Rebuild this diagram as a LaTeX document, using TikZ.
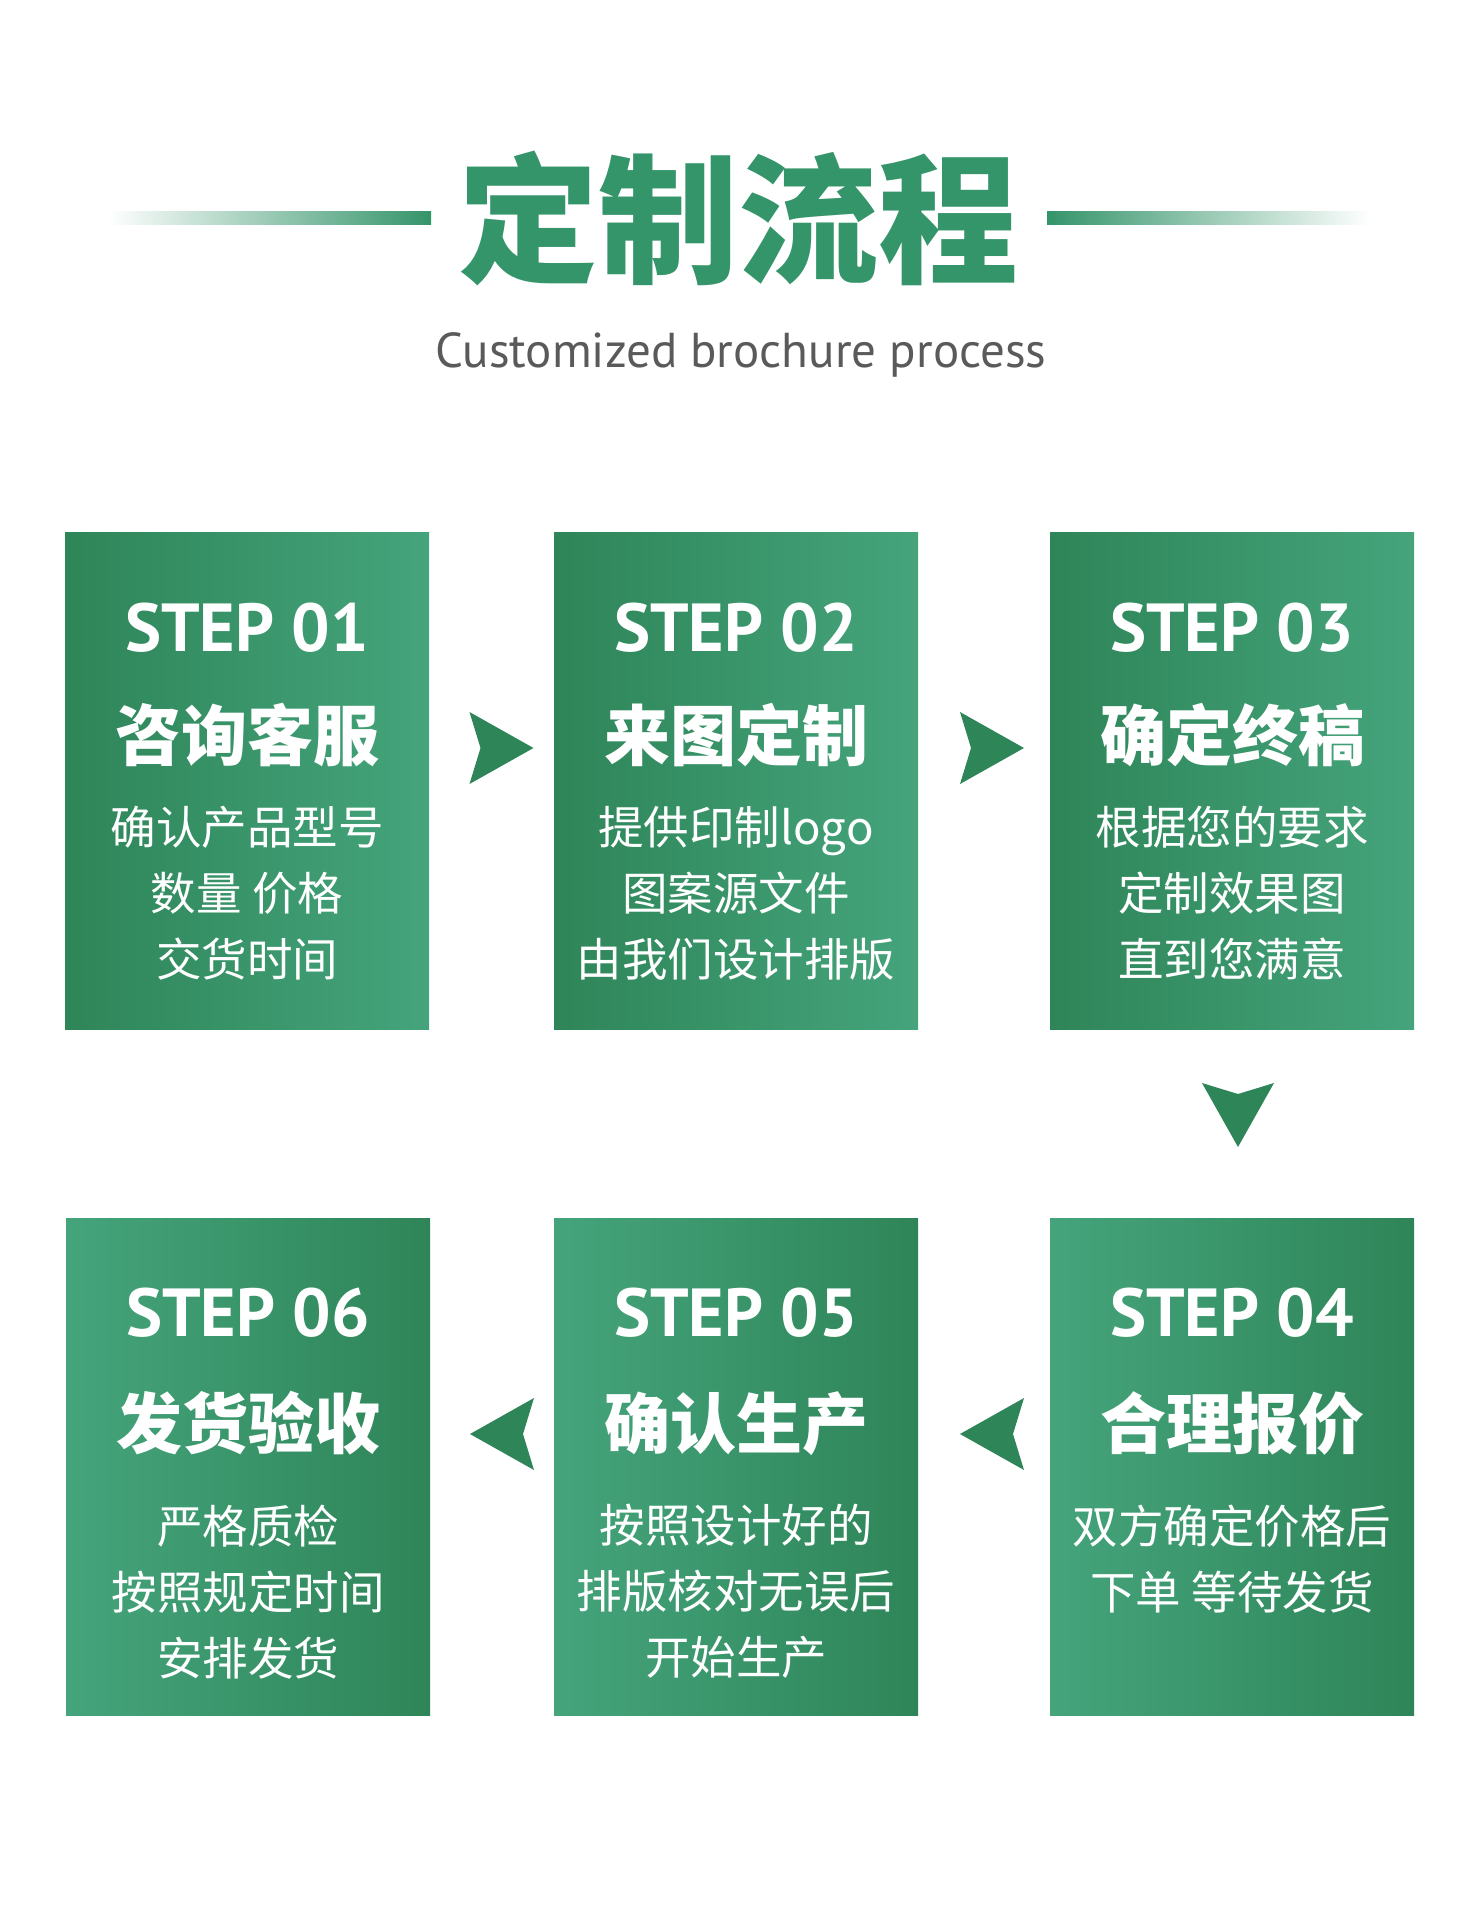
\documentclass[tikz,border=0pt]{standalone}
\usepackage{fontspec}
\newfontfamily\cjk{Noto Sans CJK SC}
\newfontfamily\latin{PT Sans}
\usetikzlibrary{positioning,calc}
\definecolor{gdark}{HTML}{2E8558}
\definecolor{glight}{HTML}{45A47C}
\definecolor{gtitle}{HTML}{34946A}
\definecolor{tgray}{HTML}{5A5A5A}
\definecolor{tbrown}{HTML}{A89A8A}
\tikzset{
  stepbox/.style={minimum width=364pt, minimum height=497pt, inner sep=0pt},
  darkleft/.style={left color=gdark, right color=glight},
  darkright/.style={left color=glight, right color=gdark},
  steplabel/.style={text=white, inner sep=0pt, font=\latin\bfseries\fontsize{68}{68}\selectfont},
  stephead/.style={text=white, inner sep=0pt, font=\cjk\bfseries\fontsize{66}{66}\selectfont},
  stepbody/.style={text=white, inner sep=0pt, align=center, anchor=north, font=\cjk\fontsize{45.5}{66}\selectfont},
  chev/.pic={\fill[gdark] (32,0) -- (-32,-36) -- (-21,0) -- (-32,36) -- cycle;}
}
\begin{document}
\begin{tikzpicture}[x=1pt, y=-1pt]
\useasboundingbox[fill=white] (0,0) rectangle (1474,1920);
% title
\node[text=gtitle, inner sep=0pt, font=\cjk\bfseries\fontsize{140}{140}\selectfont] (title) at (738,218) {定制流程};
\shade[left color=white, middle color=tbrown, right color=gtitle] (108,211) rectangle (431,224);
\shade[left color=gtitle, middle color=tbrown, right color=white] (1047,211) rectangle (1370,224);
\node[text=tgray, inner sep=0pt, font=\latin\fontsize{49}{49}\selectfont] (sub) at (741,355) {Customized brochure process};
% row one
\node[stepbox, darkleft] (s1) at (247,781) {};
\node[stepbox, darkleft] (s2) at (736,781) {};
\node[stepbox, darkleft] (s3) at (1232,781) {};
% row two
\node[stepbox, darkright] (s4) at (1232,1467) {};
\node[stepbox, darkright] (s5) at (736,1467) {};
\node[stepbox, darkright] (s6) at (248,1467) {};
% texts
\node[steplabel] (l1) at ([yshift=-95pt]s1.north) {STEP 01};
\node[stephead] (h1) at ([yshift=-203pt]s1.north) {咨询客服};
\node[stepbody] (b1) at ([yshift=-274pt]s1.north) {确认产品型号\\数量 价格\\交货时间};
\node[steplabel] (l2) at ([yshift=-95pt]s2.north) {STEP 02};
\node[stephead] (h2) at ([yshift=-203pt]s2.north) {来图定制};
\node[stepbody] (b2) at ([yshift=-274pt]s2.north) {提供印制logo\\图案源文件\\由我们设计排版};
\node[steplabel] (l3) at ([yshift=-95pt]s3.north) {STEP 03};
\node[stephead] (h3) at ([yshift=-203pt]s3.north) {确定终稿};
\node[stepbody] (b3) at ([yshift=-274pt]s3.north) {根据您的要求\\定制效果图\\直到您满意};
\node[steplabel] (l4) at ([yshift=-94pt]s4.north) {STEP 04};
\node[stephead] (h4) at ([yshift=-205pt]s4.north) {合理报价};
\node[stepbody] (b4) at ([yshift=-286pt]s4.north) {双方确定价格后\\下单 等待发货};
\node[steplabel] (l5) at ([yshift=-94pt]s5.north) {STEP 05};
\node[stephead] (h5) at ([yshift=-205pt]s5.north) {确认生产};
\node[stepbody] (b5) at ([yshift=-286pt]s5.north) {按照设计好的\\排版核对无误后\\开始生产};
\node[steplabel] (l6) at ([yshift=-94pt]s6.north) {STEP 06};
\node[stephead] (h6) at ([yshift=-205pt]s6.north) {发货验收};
\node[stepbody] (b6) at ([yshift=-286pt]s6.north) {严格质检\\按照规定时间\\安排发货};
% arrows
\pic at ($(s1.east)!0.5!(s2.west)+(10,-33)$) {chev};
\pic at ($(s2.east)!0.5!(s3.west)+(8,-33)$) {chev};
\pic[rotate=-90] at ($(s3.south)!0.5!(s4.north)+(6,-9)$) {chev};
\pic[rotate=180] at ($(s4.west)!0.5!(s5.east)+(8,-33)$) {chev};
\pic[rotate=180] at ($(s5.west)!0.5!(s6.east)+(10,-33)$) {chev};
\end{tikzpicture}
\end{document}
